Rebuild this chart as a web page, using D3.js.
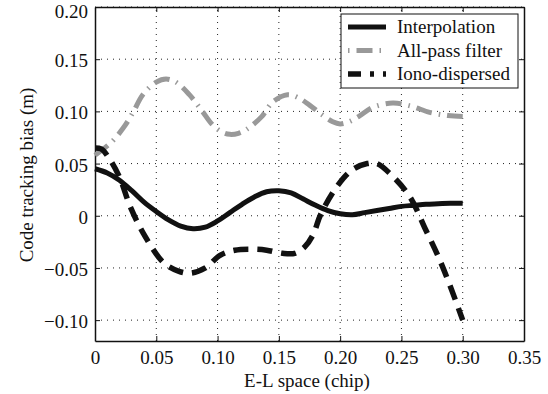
<!DOCTYPE html>
<html>
<head>
<meta charset="utf-8">
<script src="https://cdn.jsdelivr.net/npm/d3@7"></script>
<style>
  body { margin: 0; background: #fff; }
  text { font-family: "Liberation Serif", "Times New Roman", serif; fill: #111; }
</style>
</head>
<body>
<div id="chart"></div>
<script>
// Data
const xTicks = [0, 0.05, 0.10, 0.15, 0.20, 0.25, 0.30, 0.35];
const yTicks = [-0.10, -0.05, 0, 0.05, 0.10, 0.15, 0.20];

const interpX = [0, 0.01, 0.02, 0.03, 0.04, 0.05, 0.06, 0.07, 0.08, 0.09, 0.10, 0.11, 0.12, 0.13, 0.14, 0.15, 0.16, 0.17, 0.18, 0.19, 0.20, 0.21, 0.22, 0.23, 0.24, 0.25, 0.26, 0.27, 0.28, 0.29, 0.30];
const interpY = [0.045, 0.041, 0.034, 0.024, 0.013, 0.004, -0.004, -0.010, -0.0125, -0.011, -0.005, 0.003, 0.011, 0.018, 0.023, 0.024, 0.022, 0.016, 0.010, 0.005, 0.002, 0.001, 0.003, 0.005, 0.007, 0.009, 0.010, 0.011, 0.0115, 0.012, 0.012];

const allpassX = [0, 0.013, 0.023, 0.031, 0.039, 0.050, 0.058, 0.066, 0.077, 0.087, 0.096, 0.104, 0.110, 0.117, 0.124, 0.136, 0.145, 0.157, 0.166, 0.175, 0.185, 0.194, 0.200, 0.207, 0.215, 0.227, 0.243, 0.258, 0.273, 0.288, 0.300];
const allpassY = [0.058, 0.070, 0.084, 0.099, 0.116, 0.128, 0.131, 0.128, 0.116, 0.101, 0.087, 0.080, 0.078, 0.079, 0.083, 0.095, 0.109, 0.116, 0.113, 0.106, 0.097, 0.090, 0.088, 0.090, 0.095, 0.104, 0.108, 0.105, 0.099, 0.096, 0.095];

const ionoX = [0, 0.005, 0.011, 0.020, 0.029, 0.041, 0.056, 0.068, 0.078, 0.090, 0.102, 0.114, 0.127, 0.140, 0.153, 0.163, 0.171, 0.178, 0.184, 0.198, 0.210, 0.222, 0.230, 0.241, 0.257, 0.269, 0.280, 0.290, 0.300];
const ionoY = [0.065, 0.064, 0.056, 0.037, 0.008, -0.020, -0.045, -0.053, -0.055, -0.050, -0.038, -0.033, -0.032, -0.033, -0.036, -0.036, -0.030, -0.018, 0.001, 0.029, 0.044, 0.050, 0.050, 0.040, 0.018, -0.0115, -0.039, -0.068, -0.100];

const series = [
  { name: "Interpolation", xs: interpX, ys: interpY, color: "#111", width: 5, dash: null, legendDash: null },
  { name: "All-pass filter", xs: allpassX, ys: allpassY, color: "#999", width: 5, dash: "16 7 1.5 7", legendDash: "1.5 7 16 7" },
  { name: "Iono-dispersed", xs: ionoX, ys: ionoY, color: "#111", width: 5.5, dash: "15 9", legendDash: "13 9 4 9" },
];

const width = 548;
const height = 394;
const margin = { top: 7, right: 24, bottom: 53, left: 95 };

const svg = d3.select("#chart")
  .append("svg")
  .attr("width", width)
  .attr("height", height);

const x = d3.scaleLinear()
  .domain([0, 0.35])
  .range([margin.left, width - margin.right]);

const y = d3.scaleLinear()
  .domain([-0.12, 0.20])
  .range([height - margin.bottom, margin.top]);

const fmt = (v) => (v === 0 ? "0" : d3.format(".2f")(v).replace("-", "\u2212"));

// dotted grid
svg.append("g")
  .selectAll("line")
  .data(xTicks.slice(1, -1))
  .join("line")
  .attr("x1", (d) => x(d)).attr("x2", (d) => x(d))
  .attr("y1", y(-0.12)).attr("y2", y(0.20))
  .attr("stroke", "#222")
  .attr("stroke-width", 1)
  .attr("stroke-dasharray", "1 5");

svg.append("g")
  .selectAll("line")
  .data(yTicks)
  .join("line")
  .attr("x1", x(0)).attr("x2", x(0.35))
  .attr("y1", (d) => y(d)).attr("y2", (d) => y(d))
  .attr("stroke", "#222")
  .attr("stroke-width", 1)
  .attr("stroke-dasharray", "1 5");

// axes, ticks pointing inward
const fontSize = "19px";
const axB = svg.append("g")
  .attr("transform", `translate(0,${y(-0.12)})`)
  .call(d3.axisBottom(x).tickValues(xTicks).tickFormat(fmt).tickSizeInner(-5).tickSizeOuter(0).tickPadding(10));
const axT = svg.append("g")
  .attr("transform", `translate(0,${y(0.20)})`)
  .call(d3.axisTop(x).tickValues(xTicks).tickFormat("").tickSizeInner(-5).tickSizeOuter(0));
const axL = svg.append("g")
  .attr("transform", `translate(${x(0)},0)`)
  .call(d3.axisLeft(y).tickValues(yTicks).tickFormat(fmt).tickSizeInner(-5).tickSizeOuter(0).tickPadding(7));
const axR = svg.append("g")
  .attr("transform", `translate(${x(0.35)},0)`)
  .call(d3.axisRight(y).tickValues(yTicks).tickFormat("").tickSizeInner(-5).tickSizeOuter(0));

[axB, axT, axL, axR].forEach((g) => {
  g.select(".domain").attr("stroke", "#111").attr("stroke-width", 1.5);
  g.selectAll(".tick line").attr("stroke", "#111").attr("stroke-width", 1);
  g.selectAll("text")
    .style("font-family", '"Liberation Serif", "Times New Roman", serif')
    .style("font-size", fontSize)
    .attr("fill", "#111");
});
// nudge the top label so it stays inside the page
axL.selectAll("text").attr("y", (d) => (d === 0.20 ? 4 : 1.5));

// curves
const line = d3.line()
  .x((d) => x(d[0]))
  .y((d) => y(d[1]))
  .curve(d3.curveCatmullRom.alpha(0.5));

series.forEach((s) => {
  const pts = s.xs.map((v, i) => [v, s.ys[i]]);
  svg.append("path")
    .datum(pts)
    .attr("fill", "none")
    .attr("stroke", s.color)
    .attr("stroke-width", s.width)
    .attr("stroke-dasharray", s.dash)
    .attr("d", line);
});

// axis titles
svg.append("text")
  .attr("x", 307)
  .attr("y", 387)
  .attr("text-anchor", "middle")
  .style("font-size", fontSize)
  .text("E-L space (chip)");

svg.append("text")
  .attr("transform", "translate(33,175) rotate(-90)")
  .attr("text-anchor", "middle")
  .style("font-size", fontSize)
  .text("Code tracking bias (m)");

// legend
const legend = svg.append("g");
legend.append("rect")
  .attr("x", 341).attr("y", 14)
  .attr("width", 177).attr("height", 74)
  .attr("fill", "#fff")
  .attr("stroke", "#111")
  .attr("stroke-width", 1);

series.forEach((s, i) => {
  const yy = 27 + i * 23.5;
  legend.append("line")
    .attr("x1", 348).attr("x2", 386)
    .attr("y1", yy).attr("y2", yy)
    .attr("stroke", s.color)
    .attr("stroke-width", s.width)
    .attr("stroke-dasharray", s.legendDash);
  legend.append("text")
    .attr("x", 397)
    .attr("y", yy + 6)
    .style("font-size", fontSize)
    .text(s.name);
});
</script>
</body>
</html>
